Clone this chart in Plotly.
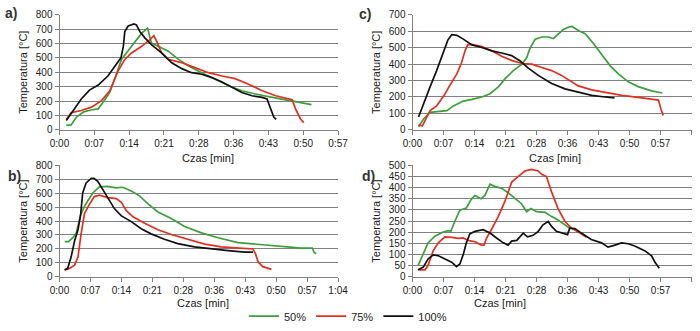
import plotly.graph_objects as go

# ---------------- data (time in minutes, temperature in °C) ----------------
tick_vals = [0, 7.2, 14.4, 21.6, 28.8, 36.0, 43.2, 50.4, 57.6, 64.8]
tick_text = ["0:00", "0:07", "0:14", "0:21", "0:28", "0:36", "0:43", "0:50", "0:57", "1:04"]
series_names = ["50%", "75%", "100%"]

# panel a
a_t50 = [1.4, 2.4, 3.5, 5.0, 6.5, 8.0, 9.2, 10.4, 11.6, 12.8, 14.9, 17.0, 18.2, 19.0, 20.4, 22.5, 24.6, 26.7, 29.4, 32.2, 35.0, 37.7, 40.5, 44.0, 47.4, 50.2, 52.1]
a_T50 = [32, 35, 89, 125, 138, 146, 200, 260, 370, 489, 580, 671, 705, 603, 580, 546, 489, 443, 397, 352, 306, 272, 249, 226, 203, 185, 176]
a_t75 = [1.4, 2.4, 4.5, 6.6, 8.7, 10.4, 12.1, 13.5, 14.9, 17.0, 18.7, 19.5, 20.1, 21.1, 22.5, 25.3, 28.0, 30.8, 33.6, 36.3, 39.1, 41.9, 44.7, 48.1, 48.8, 49.8, 50.5]
a_T75 = [73, 119, 135, 158, 203, 272, 409, 489, 534, 580, 626, 653, 614, 534, 489, 466, 432, 397, 374, 356, 317, 272, 237, 210, 146, 78, 50]
a_t100 = [1.4, 2.4, 4.5, 6.2, 8.0, 10.0, 11.8, 12.7, 13.2, 13.5, 14.2, 15.4, 15.9, 16.6, 17.7, 19.0, 21.1, 23.2, 25.3, 27.3, 29.4, 31.5, 33.6, 35.7, 37.7, 39.8, 41.9, 42.9, 43.6, 44.3, 44.8]
a_T100 = [66, 112, 215, 276, 311, 374, 454, 500, 580, 683, 721, 735, 728, 683, 637, 591, 534, 466, 425, 397, 386, 363, 333, 295, 260, 237, 226, 215, 146, 89, 73]

# panel b
b_t50 = [1.2, 2.1, 3.1, 3.9, 4.9, 5.7, 6.6, 7.8, 9.3, 11.2, 13.2, 14.7, 16.7, 18.6, 20.6, 22.9, 26.0, 29.1, 33.0, 36.9, 41.5, 46.9, 52.1, 56.3, 58.8, 59.2, 59.7]
b_T50 = [252, 252, 280, 315, 442, 500, 546, 604, 646, 650, 639, 643, 616, 581, 523, 465, 419, 361, 315, 280, 245, 229, 215, 206, 206, 176, 164]
b_t75 = [1.2, 2.3, 3.5, 4.3, 5.0, 5.8, 7.0, 8.1, 9.3, 11.2, 13.2, 14.4, 15.5, 17.1, 19.8, 22.9, 26.0, 29.9, 33.8, 37.6, 41.5, 45.0, 45.6, 46.2, 47.3, 49.3]
b_T75 = [49, 60, 83, 141, 303, 454, 523, 576, 586, 569, 562, 535, 477, 431, 384, 338, 303, 269, 234, 215, 206, 199, 164, 106, 72, 53]
b_t100 = [1.2, 1.9, 2.7, 3.5, 4.3, 4.9, 5.4, 6.2, 7.4, 8.0, 8.9, 10.1, 11.2, 12.8, 14.4, 16.7, 19.0, 21.3, 24.4, 27.5, 31.4, 35.3, 39.2, 43.1, 45.0]
b_T100 = [49, 60, 141, 257, 338, 442, 604, 674, 708, 708, 685, 627, 569, 488, 437, 396, 345, 308, 269, 238, 215, 199, 188, 176, 176]

# panel c
c_t50 = [1.4, 2.6, 4.1, 6.0, 8.0, 9.5, 11.8, 13.8, 16.1, 18.0, 20.0, 21.5, 23.4, 25.4, 26.5, 27.3, 28.5, 30.0, 31.5, 32.7, 33.9, 35.0, 36.2, 37.0, 38.5, 40.1, 42.0, 43.9, 45.9, 47.8, 50.1, 52.4, 55.5, 58.0]
c_T50 = [19, 68, 107, 111, 117, 146, 175, 185, 200, 220, 263, 311, 360, 399, 438, 496, 551, 564, 564, 554, 584, 609, 623, 628, 603, 584, 525, 457, 389, 340, 292, 263, 237, 224]
c_t75 = [1.4, 2.3, 3.3, 4.1, 5.6, 7.2, 8.7, 10.3, 11.4, 12.2, 12.8, 13.8, 16.1, 18.4, 20.7, 23.0, 25.4, 27.7, 30.0, 32.3, 34.6, 36.6, 38.5, 41.6, 44.7, 48.6, 52.4, 55.5, 57.1, 57.7, 58.2]
c_T75 = [29, 25, 78, 117, 146, 204, 272, 340, 409, 480, 516, 519, 506, 480, 447, 422, 403, 399, 379, 360, 331, 298, 267, 243, 228, 210, 198, 189, 181, 126, 88]
c_t100 = [1.4, 2.6, 4.1, 5.6, 7.2, 8.2, 9.1, 10.3, 11.8, 13.8, 16.1, 18.4, 20.7, 23.0, 25.0, 26.9, 29.2, 32.3, 35.4, 38.5, 41.6, 44.7, 46.9]
c_T100 = [78, 165, 263, 360, 477, 545, 578, 574, 551, 516, 500, 480, 467, 451, 418, 375, 331, 282, 249, 228, 210, 200, 195]

# panel d
d_t50 = [1.3, 2.5, 3.6, 5.2, 7.1, 8.3, 8.9, 9.8, 11.0, 12.5, 13.7, 14.5, 15.9, 16.8, 18.0, 19.1, 20.7, 22.2, 23.8, 25.3, 26.5, 27.5, 28.8, 30.8, 32.3, 33.8, 35.4, 36.5]
d_T50 = [50, 101, 152, 182, 201, 207, 204, 248, 299, 309, 350, 365, 350, 365, 416, 406, 397, 377, 353, 328, 292, 306, 292, 289, 270, 255, 233, 218]
d_t75 = [1.3, 2.9, 3.6, 4.8, 6.0, 7.5, 9.1, 10.6, 11.8, 12.9, 14.5, 16.0, 16.6, 17.2, 18.3, 19.9, 21.4, 23.0, 24.5, 26.1, 27.6, 29.2, 30.0, 31.1, 32.3, 33.8, 35.4, 36.9, 38.9, 40.4]
d_T75 = [31, 31, 50, 116, 152, 179, 177, 172, 174, 163, 157, 142, 142, 174, 211, 270, 336, 424, 450, 475, 482, 475, 460, 450, 380, 306, 248, 218, 196, 177]
d_t100 = [1.3, 2.5, 3.6, 4.8, 6.0, 7.5, 9.1, 10.2, 11.0, 11.8, 12.5, 13.3, 14.5, 16.4, 18.0, 19.5, 21.1, 22.2, 23.0, 24.2, 25.7, 26.7, 28.0, 29.2, 30.3, 31.5, 32.3, 33.4, 34.6, 36.0, 36.5, 37.7, 39.2, 41.5, 43.9, 45.4, 47.0, 48.5, 50.1, 51.6, 54.0, 55.5, 56.3, 57.3]
d_T100 = [31, 43, 79, 98, 94, 79, 65, 45, 57, 101, 152, 192, 204, 211, 196, 174, 152, 142, 160, 163, 196, 179, 186, 204, 233, 248, 226, 204, 196, 189, 218, 216, 196, 167, 152, 133, 142, 152, 148, 138, 116, 94, 65, 38]

# ---------------- styling ----------------
FONT = "Liberation Sans, Arial, sans-serif"
COLORS = {"50%": "#3c9e3c", "75%": "#e2301f", "100%": "#111111"}
GRID = "#808080"
TXT = "#222222"

panels = [
    # name, x-axis id, y-axis id, x domain, y domain, x max, y max, y dtick, data
    ("a", "x", "y", [0.085, 0.483], [0.599, 0.955], 57.6, 800, 100,
     [(a_t50, a_T50), (a_t75, a_T75), (a_t100, a_T100)]),
    ("c", "x2", "y2", [0.5893, 0.988], [0.599, 0.955], 64.8, 700, 100,
     [(c_t50, c_T50), (c_t75, c_T75), (c_t100, c_T100)]),
    ("b", "x3", "y3", [0.085, 0.483], [0.146, 0.4894], 64.8, 800, 100,
     [(b_t50, b_T50), (b_t75, b_T75), (b_t100, b_T100)]),
    ("d", "x4", "y4", [0.5893, 0.988], [0.146, 0.4894], 64.8, 500, 50,
     [(d_t50, d_T50), (d_t75, d_T75), (d_t100, d_T100)]),
]

fig = go.Figure()
layout = dict(
    width=700, height=331,
    margin=dict(l=0, r=0, t=0, b=0),
    paper_bgcolor="white", plot_bgcolor="white",
    font=dict(family=FONT, size=11, color=TXT),
    showlegend=True,
    legend=dict(orientation="h", x=0.497, xanchor="center", y=0.024, yanchor="middle",
                font=dict(family=FONT, size=11, color=TXT), itemwidth=30,
                tracegroupgap=0, bgcolor="rgba(0,0,0,0)"),
)

for pi, (name, xa, ya, xdom, ydom, xmax, ymax, dt, data) in enumerate(panels):
    for si, (t, T) in enumerate(data):
        sname = series_names[si]
        fig.add_trace(go.Scatter(
            x=t, y=T, mode="lines", name=sname, legendgroup=sname,
            showlegend=(pi == 0),
            line=dict(color=COLORS[sname], width=1.7),
            xaxis=xa, yaxis=ya,
        ))
    xkey = "xaxis" + xa[1:]
    ykey = "yaxis" + ya[1:]
    nt = len([v for v in tick_vals if v <= xmax + 0.01])
    layout[xkey] = dict(
        domain=xdom, anchor=ya, range=[0, xmax],
        tickmode="array", tickvals=tick_vals[:nt], ticktext=tick_text[:nt],
        showgrid=False, zeroline=False, showline=True, linecolor=GRID, linewidth=1,
        ticks="outside", ticklen=4, tickcolor=GRID, automargin=False,
        tickfont=dict(family=FONT, size=10, color=TXT),
    )
    layout[ykey] = dict(
        domain=ydom, anchor=xa, range=[0, ymax], dtick=dt, tick0=0,
        showgrid=True, gridcolor=GRID, gridwidth=1, zeroline=False,
        showline=True, linecolor=GRID, linewidth=1,
        ticks="outside", ticklen=4, tickcolor=GRID, automargin=False,
        tickfont=dict(family=FONT, size=10, color=TXT),
        title=dict(text="Temperatura [°C]", font=dict(family=FONT, size=11, color=TXT), standoff=5),
    )

annotations = []
# panel letters
for txt, x, y in [("a)", 11, 13), ("c)", 365, 14), ("b)", 14, 180), ("d)", 368, 180)]:
    annotations.append(dict(text="<b>%s</b>" % txt, x=x / 700, y=1 - y / 331, xref="paper", yref="paper",
                            showarrow=False, xanchor="center", yanchor="middle",
                            font=dict(family=FONT, size=14, color="#333333")))
# x-axis titles
for x, y in [(208, 161), (555, 161), (203, 310), (500, 310)]:
    annotations.append(dict(text="Czas [min]", x=x / 700, y=1 - y / 331, xref="paper", yref="paper",
                            showarrow=False, xanchor="center", yanchor="middle",
                            font=dict(family=FONT, size=11, color=TXT)))
layout["annotations"] = annotations

fig.update_layout(**layout)
fig.write_html("out.html")
